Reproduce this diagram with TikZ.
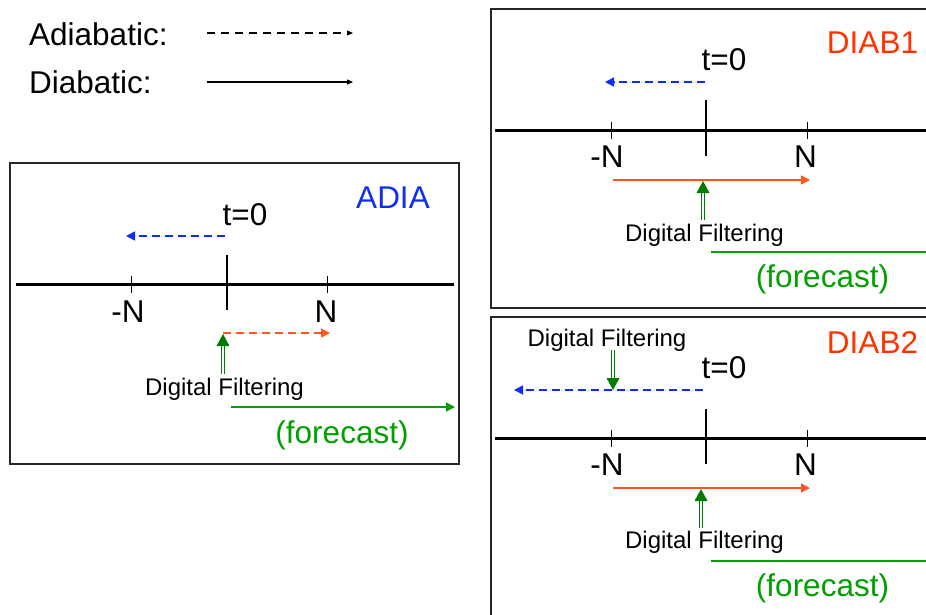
\documentclass[tikz,border=0pt]{standalone}
\usepackage{fontspec}
\setmainfont{Liberation Sans}
\usetikzlibrary{arrows.meta}

\definecolor{adiablue}{RGB}{15,45,245}
\definecolor{diabred}{RGB}{255,50,0}
\definecolor{runorange}{RGB}{255,85,30}
\definecolor{fcgreen}{RGB}{0,160,0}
\definecolor{dfgreen}{RGB}{0,125,0}

\begin{document}
\begin{tikzpicture}[x=1pt,y=-1pt,
  big/.style={font=\fontsize{31.5}{36}\selectfont, inner sep=0pt, anchor=base},
  small/.style={font=\fontsize{24}{28}\selectfont, inner sep=0pt, anchor=base},
  panel/.style={draw=black!85, line width=1.6pt},
  axisline/.style={line width=3pt},
  nticks/.style={line width=0.9pt},
  zerotick/.style={line width=1.8pt},
  adarrow/.style={line width=1.5pt, dash pattern=on 8pt off 5pt, -{Triangle[length=9pt,width=9pt]}},
  diarrow/.style={line width=1.5pt, -{Triangle[length=9pt,width=9pt]}},
  legendarrow/.style={line width=1.1pt, -{Triangle[length=6pt,width=5pt]}},
  dfshaft/.style={draw=dfgreen, double=white, double distance=2.2pt, line width=0.8pt, shorten >=10pt},
  dfhead/.style={fill=dfgreen}
]
\useasboundingbox (0,0) rectangle (926,614);
\clip (0,0) rectangle (926,614);

% ---------- legend ----------
\node[big, anchor=base west] (lad) at (29,45) {Adiabatic:};
\node[big, anchor=base west] (ldi) at (29,93) {Diabatic:};
\coordinate (lad1) at (207,33); \coordinate (lad2) at (353,33);
\coordinate (ldi1) at (207,82); \coordinate (ldi2) at (353,82);
\draw[legendarrow, dash pattern=on 8pt off 6pt] (lad1) -- (lad2);
\draw[legendarrow] (ldi1) -- (ldi2);

% ---------- ADIA ----------
\draw[panel] (10,163) rectangle (459,464);
\coordinate (aL) at (16,284); \coordinate (aR) at (454,284);
\draw[axisline] (aL) -- (aR);
\draw[nticks] (131,276) -- (131,293);
\draw[nticks] (327,276) -- (327,293);
\draw[zerotick] (227,255) -- (227,310);
\node[big] (aT) at (245,225) {t=0};
\node[big, text=adiablue] (aName) at (393,208) {ADIA};
\node[big] (aMN) at (128,322) {-N};
\node[big] (aPN) at (326,322) {N};
\coordinate (ab1) at (225,236); \coordinate (ab2) at (126,236);
\draw[adarrow, draw=adiablue, fill=adiablue] (ab1) -- (ab2);
\coordinate (ao1) at (223,333); \coordinate (ao2) at (330,333);
\draw[adarrow, draw=runorange, fill=runorange] (ao1) -- (ao2);
\node[small] (aDF) at (224.5,395) {Digital Filtering};
\coordinate (adf1) at (223,374); \coordinate (adf2) at (223,334);
\draw[dfshaft] (adf1) -- (adf2);
\fill[dfhead] (adf2) -- ++(-6.5,12) -- ++(13,0) -- cycle;
\coordinate (ag1) at (231,407); \coordinate (ag2) at (455,407);
\draw[diarrow, draw=fcgreen, fill=fcgreen] (ag1) -- (ag2);
\node[big, text=fcgreen] (aFC) at (342,443) {(forecast)};

% ---------- DIAB1 ----------
\draw[panel] (491,9) rectangle (940,308);
\coordinate (bL) at (495,130); \coordinate (bR) at (930,130);
\draw[axisline] (bL) -- (bR);
\draw[nticks] (611,122) -- (611,139);
\draw[nticks] (807,122) -- (807,139);
\draw[zerotick] (706,100) -- (706,156);
\node[big] (bT) at (724,70) {t=0};
\node[big, text=diabred] (bName) at (872.5,53) {DIAB1};
\node[big] (bMN) at (607,167) {-N};
\node[big] (bPN) at (805.5,167) {N};
\coordinate (bb1) at (705,82); \coordinate (bb2) at (605,82);
\draw[adarrow, draw=adiablue, fill=adiablue] (bb1) -- (bb2);
\coordinate (bo1) at (613,180); \coordinate (bo2) at (810,180);
\draw[diarrow, draw=runorange, fill=runorange] (bo1) -- (bo2);
\node[small] (bDF) at (704.5,241) {Digital Filtering};
\coordinate (bdf1) at (703,220); \coordinate (bdf2) at (703,181);
\draw[dfshaft] (bdf1) -- (bdf2);
\fill[dfhead] (bdf2) -- ++(-6.5,12) -- ++(13,0) -- cycle;
\coordinate (bg1) at (711,252); \coordinate (bg2) at (930,252);
\draw[line width=1.5pt, draw=fcgreen] (bg1) -- (bg2);
\node[big, text=fcgreen] (bFC) at (822.5,287) {(forecast)};

% ---------- DIAB2 ----------
\draw[panel] (491,317) rectangle (940,630);
\coordinate (cL) at (495,438); \coordinate (cR) at (930,438);
\draw[axisline] (cL) -- (cR);
\draw[nticks] (611,430) -- (611,447);
\draw[nticks] (807,430) -- (807,447);
\draw[zerotick] (706,409) -- (706,464);
\node[big] (cT) at (724,378) {t=0};
\node[big, text=diabred] (cName) at (872.5,353) {DIAB2};
\node[big] (cMN) at (607,475) {-N};
\node[big] (cPN) at (805.5,475) {N};
\node[small] (cDFtop) at (607,346) {Digital Filtering};
\coordinate (cb1) at (703,390); \coordinate (cb2) at (514,390);
\draw[adarrow, draw=adiablue, fill=adiablue] (cb1) -- (cb2);
\coordinate (cdt1) at (613,350); \coordinate (cdt2) at (613,390);
\draw[dfshaft] (cdt1) -- (cdt2);
\fill[dfhead] (cdt2) -- ++(-6.5,-12) -- ++(13,0) -- cycle;
\coordinate (co1) at (613,488); \coordinate (co2) at (810,488);
\draw[diarrow, draw=runorange, fill=runorange] (co1) -- (co2);
\node[small] (cDF) at (704.5,548) {Digital Filtering};
\coordinate (cdf1) at (701,528); \coordinate (cdf2) at (701,489);
\draw[dfshaft] (cdf1) -- (cdf2);
\fill[dfhead] (cdf2) -- ++(-6.5,12) -- ++(13,0) -- cycle;
\coordinate (cg1) at (711,561); \coordinate (cg2) at (930,561);
\draw[line width=1.5pt, draw=fcgreen] (cg1) -- (cg2);
\node[big, text=fcgreen] (cFC) at (822.5,596) {(forecast)};
\end{tikzpicture}
\end{document}
